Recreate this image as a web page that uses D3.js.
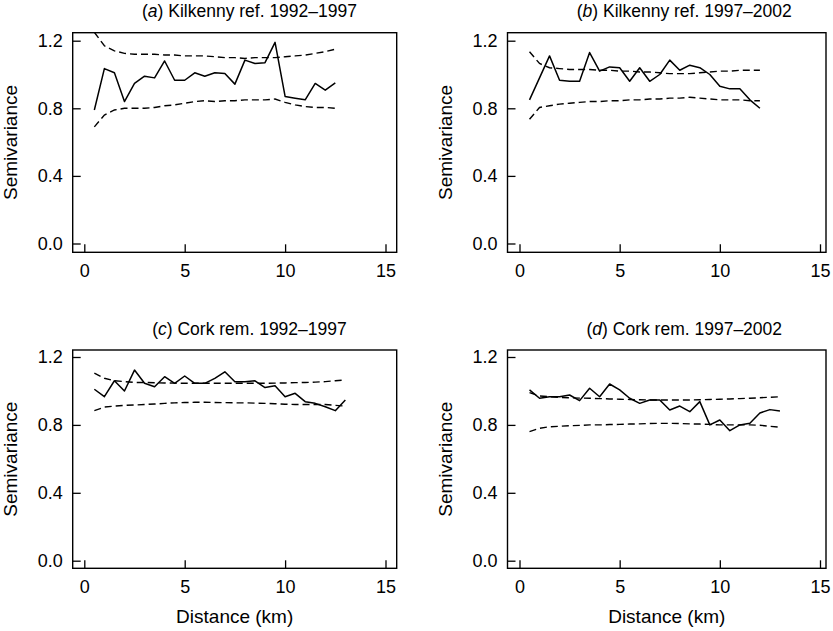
<!DOCTYPE html>
<html><head><meta charset="utf-8">
<script src="https://cdn.jsdelivr.net/npm/d3@7"></script>
<style>
html,body{margin:0;padding:0;background:#fff;}
svg{display:block;font-family:"Liberation Sans",Arial,Helvetica,sans-serif;}
</style></head>
<body>
<svg id="chart" width="833" height="631"></svg>
<script>
// ---- data ----
const panelLetters = ["a","b","c","d"];
const panelTitles = [" Kilkenny ref. 1992\u20131997"," Kilkenny ref. 1997\u20132002"," Cork rem. 1992\u20131997"," Cork rem. 1997\u20132002"];
const xTicks = [0,5,10,15];
const yTicks = [0,0.4,0.8,1.2];
const yTickLabels = ["0.0","0.4","0.8","1.2"];
const xLabel = "Distance (km)";
const yLabel = "Semivariance";

const distA = [0.5,1,1.5,2,2.5,3,3.5,4,4.5,5,5.5,6,6.5,7,7.5,8,8.5,9,9.5,10,10.5,11,11.5,12,12.5];
const semA = [0.79,1.035,1.01,0.84,0.947,0.99,0.98,1.08,0.966,0.966,1.01,0.99,1.01,1.006,0.943,1.085,1.065,1.07,1.19,0.87,0.86,0.85,0.947,0.907,0.95];
const upA  = [1.25,1.17,1.14,1.125,1.12,1.12,1.12,1.115,1.115,1.11,1.11,1.11,1.105,1.10,1.10,1.095,1.10,1.10,1.10,1.105,1.11,1.115,1.125,1.135,1.15];
const loA  = [0.69,0.76,0.79,0.80,0.80,0.80,0.805,0.815,0.82,0.83,0.84,0.845,0.84,0.845,0.845,0.85,0.85,0.85,0.855,0.835,0.82,0.81,0.805,0.805,0.80];

const distB = [0.5,1,1.5,2,2.5,3,3.5,4,4.5,5,5.5,6,6.5,7,7.5,8,8.5,9,9.5,10,10.5,11,11.5,12];
const semB = [0.85,0.98,1.11,0.966,0.96,0.96,1.13,1.02,1.045,1.04,0.96,1.04,0.96,1.0,1.085,1.025,1.055,1.04,1.0,0.93,0.915,0.915,0.85,0.80];
const upB  = [1.135,1.065,1.04,1.035,1.03,1.03,1.03,1.025,1.025,1.02,1.02,1.015,1.015,1.01,1.005,1.005,1.005,1.01,1.015,1.02,1.02,1.025,1.025,1.025];
const loB  = [0.735,0.805,0.815,0.825,0.83,0.835,0.84,0.84,0.845,0.845,0.85,0.85,0.855,0.855,0.86,0.86,0.865,0.86,0.855,0.85,0.85,0.85,0.845,0.845];

const distC = [0.5,1,1.5,2,2.5,3,3.5,4,4.5,5,5.5,6,6.5,7,7.5,8,8.5,9,9.5,10,10.5,11,11.5,12,12.5,13];
const semC = [1.01,0.966,1.06,1.0,1.123,1.045,1.025,1.084,1.045,1.088,1.045,1.045,1.074,1.113,1.054,1.054,1.06,1.02,1.03,0.966,0.986,0.937,0.927,0.907,0.884,0.947];
const upC  = [1.105,1.075,1.06,1.055,1.05,1.05,1.048,1.047,1.046,1.045,1.045,1.045,1.045,1.045,1.045,1.045,1.045,1.045,1.046,1.047,1.049,1.05,1.052,1.055,1.06,1.065];
const loC  = [0.884,0.905,0.911,0.915,0.917,0.92,0.923,0.927,0.93,0.932,0.933,0.933,0.932,0.931,0.93,0.93,0.928,0.927,0.925,0.922,0.92,0.92,0.92,0.92,0.915,0.911];

const distD = [0.5,1,1.5,2,2.5,3,3.5,4,4.5,5,5.5,6,6.5,7,7.5,8,8.5,9,9.5,10,10.5,11,11.5,12,12.5,13];
const semD = [1.006,0.957,0.966,0.966,0.976,0.943,1.016,0.966,1.041,1.006,0.957,0.927,0.947,0.947,0.888,0.911,0.878,0.937,0.80,0.829,0.766,0.80,0.81,0.87,0.89,0.882];
const upD  = [0.99,0.97,0.966,0.962,0.96,0.958,0.957,0.955,0.953,0.951,0.95,0.948,0.947,0.947,0.947,0.947,0.947,0.948,0.95,0.951,0.953,0.955,0.957,0.96,0.963,0.966];
const loD  = [0.76,0.78,0.789,0.792,0.795,0.797,0.80,0.80,0.802,0.803,0.805,0.806,0.808,0.809,0.809,0.808,0.806,0.805,0.803,0.80,0.80,0.80,0.80,0.798,0.792,0.786];

const panelDist = [distA,distB,distC,distD];
const panelSem = [semA,semB,semC,semD];
const panelUp = [upA,upB,upC,upD];
const panelLo = [loA,loB,loC,loD];

// ---- layout ----
const layout = [
  {left:72.7, right:396.7, top:32.7, bottom:252.3, x0:84.3, x15:385.5, y0:243.5, y12:40.7},
  {left:507.5, right:826, top:32.7, bottom:252.3, x0:519.5, x15:820, y0:243.5, y12:40.7},
  {left:72.7, right:396.7, top:350, bottom:568.3, x0:84.3, x15:385.5, y0:560.7, y12:357},
  {left:507.5, right:826, top:350, bottom:568.3, x0:519.5, x15:820, y0:560.7, y12:357}
];

const svg = d3.select("#chart");
const defs = svg.append("defs");

layout.forEach((L,i)=>{
  const x = d3.scaleLinear().domain([0,15]).range([L.x0,L.x15]);
  const y = d3.scaleLinear().domain([0,1.2]).range([L.y0,L.y12]);
  const g = svg.append("g");

  defs.append("clipPath").attr("id","clip"+i)
    .append("rect").attr("x",L.left).attr("y",L.top)
    .attr("width",L.right-L.left).attr("height",L.bottom-L.top);

  const pts = k => panelDist[i].map((d,j)=>[d,k[j]]);
  const line = d3.line().x(d=>x(d[0])).y(d=>y(d[1]));
  const lg = g.append("g").attr("clip-path","url(#clip"+i+")");
  lg.append("path").attr("d",line(pts(panelUp[i]))).attr("fill","none")
    .attr("stroke","#000").attr("stroke-width",1.4).attr("stroke-dasharray","7,4");
  lg.append("path").attr("d",line(pts(panelLo[i]))).attr("fill","none")
    .attr("stroke","#000").attr("stroke-width",1.4).attr("stroke-dasharray","7,4");
  lg.append("path").attr("d",line(pts(panelSem[i]))).attr("fill","none")
    .attr("stroke","#000").attr("stroke-width",1.5).attr("stroke-linejoin","round");

  // axes
  const xa = g.append("g").attr("transform","translate(0,"+L.bottom+")")
    .call(d3.axisBottom(x).tickValues(xTicks).tickSize(-8).tickPadding(12).tickFormat(d3.format("d")));
  const ya = g.append("g").attr("transform","translate("+L.left+",0)")
    .call(d3.axisLeft(y).tickValues(yTicks).tickSize(-8).tickPadding(10).tickFormat((d,j)=>yTickLabels[j]));
  [xa,ya].forEach(a=>{
    a.select(".domain").remove();
    a.selectAll("line").attr("stroke","#000").attr("stroke-width",1.3);
    a.selectAll("text").attr("fill","#000").style("font-size","18px").style("font-family","'Liberation Sans',Arial,sans-serif");
  });

  g.append("rect").attr("x",L.left).attr("y",L.top)
    .attr("width",L.right-L.left).attr("height",L.bottom-L.top)
    .attr("fill","none").attr("stroke","#000").attr("stroke-width",1.4);

  // title
  const t = g.append("text").attr("x",L.left+176.8).attr("y",L.top-15.5)
    .attr("text-anchor","middle").style("font-size","17.5px").attr("fill","#000");
  t.append("tspan").text("(");
  t.append("tspan").style("font-style","italic").text(panelLetters[i]);
  t.append("tspan").text(")"+panelTitles[i]);

  // y label
  const cy = (L.top+L.bottom)/2;
  g.append("text").attr("transform","translate("+(L.left-55.5)+","+cy+") rotate(-90)")
    .attr("text-anchor","middle").style("font-size","19px").attr("fill","#000").text(yLabel);

  if(i>=2){
    g.append("text").attr("x",(L.left+L.right)/2).attr("y",L.bottom+54.5)
      .attr("text-anchor","middle").style("font-size","19px").attr("fill","#000").text(xLabel);
  }
});
</script>
</body></html>
